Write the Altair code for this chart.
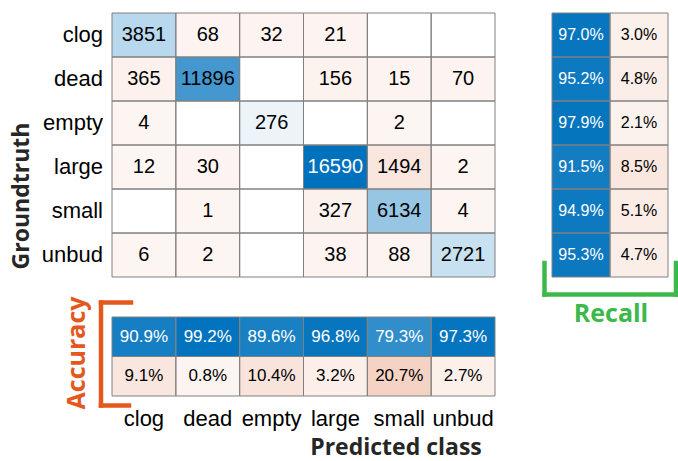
import altair as alt
import pandas as pd

# Confusion matrix of the cell classifier (rows: groundtruth, columns: predicted)
classes = ["clog", "dead", "empty", "large", "small", "unbud"]
counts = [
    [3851, 68, 32, 21, 0, 0],
    [365, 11896, 0, 156, 15, 70],
    [4, 0, 276, 0, 2, 0],
    [12, 30, 0, 16590, 1494, 2],
    [0, 1, 0, 327, 6134, 4],
    [6, 2, 0, 38, 88, 2721],
]
# Row summary (recall) and column summary (accuracy / precision), in percent
recall_pct = [97.0, 95.2, 97.9, 91.5, 94.9, 95.3]
recall_miss_pct = [3.0, 4.8, 2.1, 8.5, 5.1, 4.7]
accuracy_pct = [90.9, 99.2, 89.6, 96.8, 79.3, 97.3]
accuracy_miss_pct = [9.1, 0.8, 10.4, 3.2, 20.7, 2.7]
summary_kinds = ["hit", "miss"]

BLUE = "#0072BD"
ORANGE = "#D95319"
GRID = "#808080"
ACC_COLOR = "#E4581E"
REC_COLOR = "#3CB94A"
FONT = "Liberation Sans"
TITLE_FONT = "Open Sans"

cm = pd.DataFrame(
    [
        {"truth": t, "pred": p, "value": counts[i][j], "good": t == p}
        for i, t in enumerate(classes)
        for j, p in enumerate(classes)
    ]
)
recall_df = pd.DataFrame(
    [{"truth": t, "kind": "hit", "value": v, "good": True} for t, v in zip(classes, recall_pct)]
    + [{"truth": t, "kind": "miss", "value": v, "good": False} for t, v in zip(classes, recall_miss_pct)]
)
acc_df = pd.DataFrame(
    [{"pred": p, "kind": "hit", "value": v, "good": True} for p, v in zip(classes, accuracy_pct)]
    + [{"pred": p, "kind": "miss", "value": v, "good": False} for p, v in zip(classes, accuracy_miss_pct)]
)


def cell_block(df, xfield, xdom, xrange, yfield, ydom, yrange, vmax, label_expr, size):
    """Shaded grid of cells with value labels, MATLAB confusionchart style."""
    x = alt.X(f"{xfield}:N", axis=None,
              scale=alt.Scale(domain=xdom, range=xrange, paddingInner=0, paddingOuter=0))
    y = alt.Y(f"{yfield}:N", axis=None,
              scale=alt.Scale(domain=ydom, range=yrange, paddingInner=0, paddingOuter=0))
    base = alt.Chart(df).transform_calculate(
        share=f"datum.value / {vmax}", label=label_expr
    ).encode(x=x, y=y)
    shade = base.transform_filter("datum.value > 0").mark_rect(strokeWidth=0).encode(
        color=alt.condition("datum.good", alt.value(BLUE), alt.value(ORANGE)),
        fillOpacity=alt.FillOpacity("value:Q", legend=None,
                                    scale=alt.Scale(domain=[0, vmax], range=[0.06, 1.0])),
    )
    border = base.mark_rect(fill="white", fillOpacity=0, stroke=GRID, strokeWidth=1)
    text = base.transform_filter("datum.value > 0").mark_text(font=FONT, fontSize=size).encode(
        text="label:N",
        color=alt.condition("datum.share > 0.75", alt.value("white"), alt.value("black")),
    )
    return alt.layer(shade, border, text)


vmax = max(max(r) for r in counts)

main = cell_block(cm, "pred", classes, [112, 495], "truth", classes, [13, 277],
                  vmax, "format(datum.value, 'd')", 20)
recall = cell_block(recall_df, "kind", summary_kinds, [552, 668], "truth", classes, [13, 277],
                    100, "format(datum.value, '.1f') + '%'", 16)
accuracy = cell_block(acc_df, "pred", classes, [112, 495], "kind", summary_kinds, [317, 396],
                      100, "format(datum.value, '.1f') + '%'", 17)

class_df = pd.DataFrame({"name": classes})
row_labels = alt.Chart(class_df).mark_text(font=FONT, fontSize=22, align="right", baseline="middle").encode(
    y=alt.Y("name:N", axis=None, scale=alt.Scale(domain=classes, range=[13, 277], paddingInner=0, paddingOuter=0)),
    x=alt.value(103),
    text="name:N",
)
col_labels = alt.Chart(class_df).mark_text(font=FONT, fontSize=22, align="center", baseline="alphabetic").encode(
    x=alt.X("name:N", axis=None, scale=alt.Scale(domain=classes, range=[112, 495], paddingInner=0, paddingOuter=0)),
    y=alt.value(426),
    text="name:N",
)


def title_text(label, x, y, color, size, angle=0):
    return alt.Chart(pd.DataFrame({"label": [label]})).mark_text(
        font=TITLE_FONT, fontWeight="bold", fontSize=size, color=color,
        align="center", baseline="middle", angle=angle,
    ).encode(x=alt.value(x), y=alt.value(y), text="label:N")


def bracket_rule(x, x2, y, y2, color):
    return alt.Chart(pd.DataFrame({"k": [0]})).mark_rule(
        color=color, strokeWidth=4.5, strokeCap="square"
    ).encode(x=alt.value(x), x2=alt.value(x2), y=alt.value(y), y2=alt.value(y2))


titles = alt.layer(
    title_text("Groundtruth", 22, 196, "#262626", 23, 270),
    title_text("Predicted class", 396, 448, "#262626", 23),
    title_text("Accuracy", 77, 353, ACC_COLOR, 25, 270),
    title_text("Recall", 611, 314, REC_COLOR, 25),
)
brackets = alt.layer(
    bracket_rule(101, 101, 302.5, 405.5, ACC_COLOR),
    bracket_rule(101, 131, 302.5, 302.5, ACC_COLOR),
    bracket_rule(101, 129, 405.5, 405.5, ACC_COLOR),
    bracket_rule(544.5, 677, 294.5, 294.5, REC_COLOR),
    bracket_rule(544.5, 544.5, 263, 294.5, REC_COLOR),
    bracket_rule(676, 676, 263, 294.5, REC_COLOR),
)

chart = alt.layer(main, recall, accuracy, row_labels, col_labels, titles, brackets).resolve_scale(
    x="independent", y="independent", fillOpacity="independent"
).properties(
    width=678, height=461, padding=0, autosize=alt.AutoSizeParams(type="none"),
    background="white",
).configure_view(stroke=None)

chart.save("out.html", embed_options={"renderer": "svg", "actions": False})
